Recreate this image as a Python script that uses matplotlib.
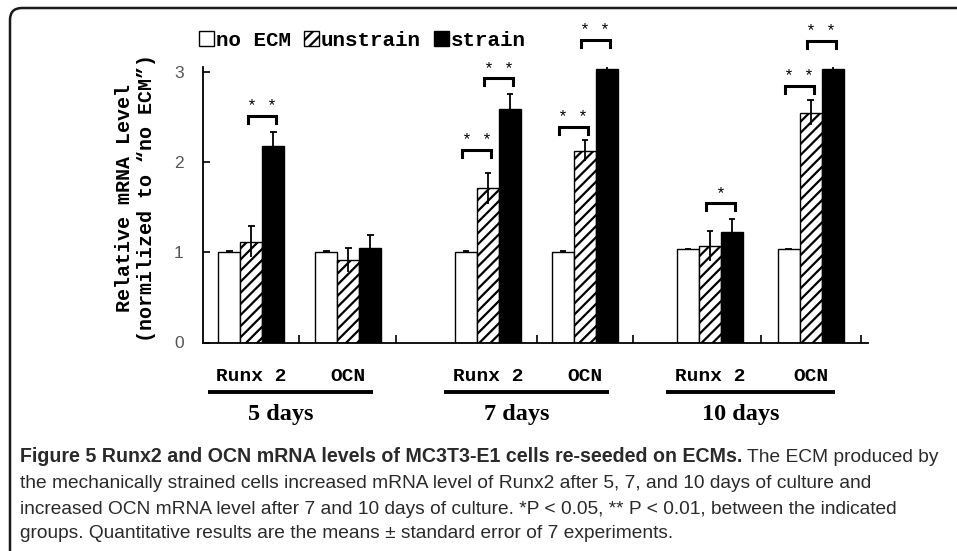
import numpy as np
import matplotlib
matplotlib.use("Agg")
import matplotlib.pyplot as plt
from matplotlib.patches import Patch, FancyBboxPatch
from matplotlib.transforms import IdentityTransform

plt.rcParams['hatch.linewidth'] = 1.6

# --- data ---
genes = ['Runx 2', 'OCN', 'Runx 2', 'OCN', 'Runx 2', 'OCN']
days = ['5 days', '7 days', '10 days']
series = ['no ECM', 'unstrain', 'strain']

no_ecm = [1.0, 1.0, 1.0, 1.0, 1.04, 1.04]
no_ecm_err = [0.01, 0.01, 0.01, 0.01, 0.0, 0.0]
unstrain = [1.12, 0.915, 1.71, 2.13, 1.07, 2.55]
unstrain_err = [0.17, 0.13, 0.17, 0.115, 0.17, 0.135]
strain = [2.18, 1.05, 2.59, 3.03, 1.23, 3.04]
strain_err = [0.16, 0.14, 0.165, 0.17, 0.14, 0.16]

# category centres (uneven gaps between the day blocks) and separator ticks
cat_x = [0, 1, 2.44, 3.44, 4.73, 5.77]
sep_ticks = [0.495, 1.495, 2.95, 3.94, 5.26, 6.29]

# significance brackets: (category, from series, to series, height, label)
brackets = [
    (0, 1, 2, 2.51, '**'),
    (2, 0, 1, 2.135, '**'),
    (2, 1, 2, 2.93, '**'),
    (3, 0, 1, 2.395, '**'),
    (3, 1, 2, 3.355, '**'),
    (4, 1, 2, 1.55, '*'),
    (5, 0, 1, 2.845, '**'),
    (5, 1, 2, 3.35, '**'),
]

caption_bold = 'Figure 5 Runx2 and OCN mRNA levels of MC3T3-E1 cells re-seeded on ECMs.'
caption_lines = [
    ' The ECM produced by',
    'the mechanically strained cells increased mRNA level of Runx2 after 5, 7, and 10 days of culture and',
    'increased OCN mRNA level after 7 and 10 days of culture. *P < 0.05, ** P < 0.01, between the indicated',
    'groups. Quantitative results are the means \u00b1 standard error of 7 experiments.',
]

mono = 'Liberation Mono'
cap_font = 'Liberation Sans'

fig = plt.figure(figsize=(9.57, 5.51), dpi=100)
ax = fig.add_axes([203 / 957, 1 - 342.5 / 551, 665 / 957, 275.8 / 551])

w = 0.227
x = np.array(cat_x)
offsets = [-w, 0, w]
vals = [no_ecm, unstrain, strain]
errs = [no_ecm_err, unstrain_err, strain_err]
faces = ['white', 'white', 'black']
hatches = [None, '///', None]

for k in range(3):
    xs = x + offsets[k]
    ax.bar(xs, vals[k], width=w, color=faces[k], edgecolor='black',
           hatch=hatches[k], linewidth=1.0, zorder=2)
    y = np.array(vals[k])
    e = np.array(errs[k])
    ax.vlines(xs, y - e, y + e, color='black', linewidth=1.3, zorder=3)
    ax.hlines(y + e, xs - 0.035, xs + 0.035, color='black', linewidth=1.3, zorder=3)

leg = 0.078
for c, a, b, h, lab in brackets:
    x0 = cat_x[c] + offsets[a] - 0.04
    x1 = cat_x[c] + offsets[b] + 0.03
    ax.plot([x0, x0, x1, x1], [h - leg, h, h, h - leg], color='black',
            linewidth=2.2, clip_on=False, solid_joinstyle='miter')
    ax.text((x0 + x1) / 2, h + 0.02, ' '.join(lab), ha='center', va='bottom',
            fontsize=12, family=mono, clip_on=False)

ax.set_xlim(-0.5, 6.36)
ax.set_ylim(0, 3.06)
ax.spines['top'].set_visible(False)
ax.spines['right'].set_visible(False)
ax.spines['left'].set_linewidth(1.3)
ax.spines['bottom'].set_linewidth(1.3)
ax.set_yticks([0, 1, 2, 3])
ax.tick_params(axis='y', direction='in', length=5, width=1.2, pad=14,
               labelsize=12.5, labelcolor='#555555')
for t in ax.get_yticklabels():
    t.set_family('Liberation Sans')
ax.set_xticks(sep_ticks)
ax.set_xticklabels([])
ax.tick_params(axis='x', direction='in', length=6, width=1.2)

ax.set_ylabel('Relative mRNA Level\n(normilized to \u201cno ECM\u201d)',
              family=mono, weight='bold', fontsize=14.4, linespacing=1.2)
ax.yaxis.set_label_coords(-0.071, 0.525)

# gene labels, day underlines and day labels
for i, g in enumerate(genes):
    ax.text(cat_x[i], -0.38, g, ha='center', va='center', family=mono,
            weight='bold', fontsize=14, clip_on=False)
for d in range(3):
    xa = cat_x[2 * d] - 0.45
    xb = cat_x[2 * d + 1] + 0.25
    ax.plot([xa, xb], [-0.546, -0.546], color='black', linewidth=2.8,
            clip_on=False, solid_capstyle='butt')
    ax.text((xa + xb) / 2 - 0.1, -0.8, days[d], ha='center', va='center',
            family='Liberation Serif', weight='bold', fontsize=17.5, clip_on=False)

# legend
handles = [Patch(facecolor=faces[k], edgecolor='black', hatch=hatches[k],
                 linewidth=1.0, label=series[k]) for k in range(3)]
fig.legend(handles=handles, loc='center left', bbox_to_anchor=(199 / 957, 1 - 40 / 551),
           ncol=3, frameon=False, handlelength=0.7, handleheight=0.7,
           handletextpad=0.1, columnspacing=0.65, borderpad=0, borderaxespad=0,
           prop={'family': mono, 'size': 15, 'weight': 'bold'})

# frame around the figure panel (cut off at the right and bottom)
fig.patches.append(FancyBboxPatch((10, -40), 1000, 551 - 8 + 40,
                                  boxstyle='round,pad=0,rounding_size=12',
                                  transform=IdentityTransform(), facecolor='none',
                                  edgecolor='#1a1a1a', linewidth=1.8))

# caption
cap_y = [457, 483, 509, 534]
fig.canvas.draw()
tb = fig.text(20 / 957, 1 - cap_y[0] / 551, caption_bold, family=cap_font,
              weight='bold', fontsize=14.1, va='center', color='#2a2a2a')
bb = tb.get_window_extent(renderer=fig.canvas.get_renderer())
fig.text(bb.x1 / 957, 1 - cap_y[0] / 551, caption_lines[0], family=cap_font,
         fontsize=13.8, va='center', color='#2a2a2a')
for line, yy in zip(caption_lines[1:], cap_y[1:]):
    fig.text(20 / 957, 1 - yy / 551, line, family=cap_font, fontsize=13.8,
             va='center', color='#2a2a2a')

fig.savefig('out.png', dpi=100)
